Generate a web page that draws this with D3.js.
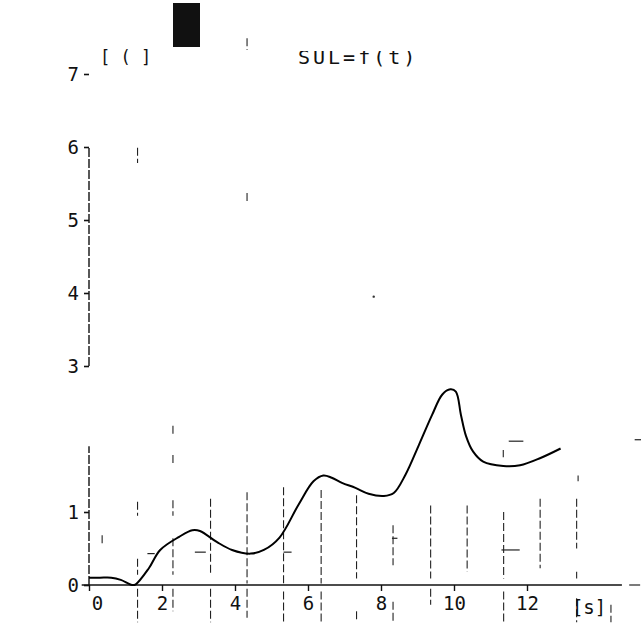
<!DOCTYPE html>
<html>
<head>
<meta charset="utf-8">
<script src="https://cdn.jsdelivr.net/npm/d3@7"></script>
<style>
  body { margin: 0; background: #fff; }
  text { font-family: "DejaVu Sans Mono", monospace; fill: #111; }
</style>
</head>
<body>
<svg id="chart"></svg>
<script>
// curve SUL = f(t)
const timeValues = [0, 0.3, 0.61, 0.87, 1.18, 1.28, 1.64, 1.95, 2.47, 2.83, 3.04, 3.5, 3.92, 4.43, 4.79, 5.22,
                    5.74, 6.15, 6.42, 6.65, 6.93, 7.3, 7.66, 8.08, 8.35, 8.67, 9.04, 9.4, 9.68, 9.9, 10.05,
                    10.19, 10.33, 10.52, 10.8, 11.35, 11.81, 12.37, 12.92];
const sulValues = [0.1, 0.1, 0.1, 0.07, 0, 0.01, 0.23, 0.48, 0.66, 0.75, 0.74, 0.59, 0.48, 0.43, 0.48, 0.65,
                   1.1, 1.42, 1.5, 1.47, 1.4, 1.33, 1.25, 1.22, 1.26, 1.51, 1.92, 2.33, 2.61, 2.68, 2.65,
                   2.33, 2.04, 1.83, 1.69, 1.63, 1.64, 1.74, 1.87];

const xTicks = [0, 2, 4, 6, 8, 10, 12];
const yTicks = [0, 1, 3, 4, 5, 6, 7];
const xUnit = '[s]';
const yUnit = '[ ( ]';
const title = 'SUL=f(t)';

// leftover grid strokes of the plotter: [t, vTop, vBottom]
const gridStrokes = [
  [0.36, 0.68, 0.55],
  [1.33, 1.14, 0.95], [1.33, 0.36, 0.14], [1.33, -0.05, -0.51], [1.33, 5.99, 5.78],
  [2.3, 1.16, 0.95], [2.3, 0.64, 0.14], [2.3, -0.05, -0.36], [2.3, 2.18, 2.04], [2.3, 1.78, 1.64],
  [3.33, 1.18, 0.14], [3.33, -0.05, -0.51],
  [4.33, 1.27, 0.02], [4.33, -0.05, -0.45], [4.33, 7.49, 7.33], [4.33, 5.37, 5.23],
  [5.33, 1.34, 0.02], [5.33, -0.09, -0.51],
  [6.36, 1.3, 0.02], [6.36, -0.09, -0.51],
  [7.33, 1.23, 0.09], [7.33, -0.36, -0.51],
  [8.33, 0.82, 0.27], [8.33, -0.23, -0.51],
  [9.36, 1.09, 0.09], [9.36, -0.05, -0.27],
  [10.36, 1.09, 0.18],
  [11.36, 1.0, 0.09], [11.36, -0.09, -0.51], [11.35, 1.85, 1.75],
  [12.36, 1.18, 0.23],
  [13.36, 1.18, 0.5], [13.36, 0.18, 0.09], [13.36, -0.18, -0.51], [13.4, 1.5, 1.42],
  [14.3, -0.27, -0.51]
];
// short horizontal strokes: [t0, t1, v]
const dashStrokes = [
  [1.6, 1.8, 0.43], [2.9, 3.2, 0.45], [5.33, 5.55, 0.45], [8.3, 8.45, 0.64],
  [11.3, 11.8, 0.48], [11.5, 11.9, 1.97], [14.95, 15.3, 1.99], [14.8, 15.1, 0]
];
// visible pieces of the broken y axis: [vBottom, vTop]
const yAxisPieces = [[0, 1.9], [3, 6]];

const width = 641, height = 624;

const svg = d3.select('#chart')
    .attr('width', width)
    .attr('height', height);

const x = d3.scaleLinear().domain([0, 14]).range([89, 600]);
const y = d3.scaleLinear().domain([0, 7]).range([585, 74]);

// grid leftovers
svg.append('g')
    .selectAll('line')
    .data(gridStrokes)
    .join('line')
    .attr('x1', d => x(d[0]))
    .attr('x2', d => x(d[0]))
    .attr('y1', d => y(d[1]))
    .attr('y2', d => y(d[2]))
    .attr('stroke', '#222')
    .attr('stroke-width', 1.1)
    .attr('stroke-dasharray', '8,3');

svg.append('g')
    .selectAll('line')
    .data(dashStrokes)
    .join('line')
    .attr('x1', d => x(d[0]))
    .attr('x2', d => x(d[1]))
    .attr('y1', d => y(d[2]))
    .attr('y2', d => y(d[2]))
    .attr('stroke', '#222')
    .attr('stroke-width', 1.2);

// x axis
svg.append('line')
    .attr('x1', x(-0.2)).attr('x2', x(14.6))
    .attr('y1', y(0)).attr('y2', y(0))
    .attr('stroke', '#111')
    .attr('stroke-width', 1.6);

const xAxis = d3.axisBottom(x)
    .tickValues(xTicks)
    .tickSize(6)
    .tickPadding(6)
    .tickFormat(d3.format('d'));

svg.append('g')
    .attr('transform', `translate(0,${y(0)})`)
    .call(xAxis)
    .call(g => g.select('.domain').remove())
    .call(g => g.selectAll('.tick line').attr('stroke', '#111').attr('stroke-width', 1.4))
    .call(g => g.selectAll('.tick text')
        .attr('font-size', 19)
        .attr('font-family', '"DejaVu Sans Mono", monospace')
        .attr('fill', '#111')
        .attr('dx', d => d === 0 ? 8 : 0));

svg.append('text')
    .attr('x', x(13.7))
    .attr('y', y(0) + 29)
    .attr('text-anchor', 'middle')
    .attr('font-size', 19)
    .text(xUnit);

// y axis, broken and dashed like the scan
svg.append('g')
    .selectAll('line')
    .data(yAxisPieces)
    .join('line')
    .attr('x1', x(0)).attr('x2', x(0))
    .attr('y1', d => y(d[0]))
    .attr('y2', d => y(d[1]))
    .attr('stroke', '#111')
    .attr('stroke-width', 1.4)
    .attr('stroke-dasharray', '9,2');

const yAxis = d3.axisLeft(y)
    .tickValues(yTicks)
    .tickSize(5)
    .tickPadding(5)
    .tickFormat(d3.format('d'));

svg.append('g')
    .attr('transform', `translate(${x(0)},0)`)
    .call(yAxis)
    .call(g => g.select('.domain').remove())
    .call(g => g.selectAll('.tick line').attr('stroke', '#111').attr('stroke-width', 1.6))
    .call(g => g.selectAll('.tick text')
        .attr('font-size', 19)
        .attr('font-family', '"DejaVu Sans Mono", monospace')
        .attr('fill', '#111'));

// curve
const line = d3.line()
    .x((d, i) => x(timeValues[i]))
    .y(d => y(d))
    .curve(d3.curveCatmullRom.alpha(0.5));

svg.append('path')
    .datum(sulValues)
    .attr('fill', 'none')
    .attr('stroke', '#000')
    .attr('stroke-width', 2)
    .attr('d', line);

// header texts; the scan lost the upper part of the title glyphs
svg.append('clipPath')
    .attr('id', 'title-clip')
    .append('rect')
    .attr('x', 0).attr('y', 51)
    .attr('width', width).attr('height', 20);

svg.append('text')
    .attr('x', 100)
    .attr('y', 63)
    .attr('font-size', 17)
    .text(yUnit);

svg.append('text')
    .attr('x', 298)
    .attr('y', 64)
    .attr('font-size', 20)
    .attr('letter-spacing', 3)
    .attr('clip-path', 'url(#title-clip)')
    .text(title);

// dark stamp at the top
svg.append('rect')
    .attr('x', 173).attr('y', 3)
    .attr('width', 27).attr('height', 44)
    .attr('fill', '#111');

svg.append('circle')
    .attr('cx', x(7.8)).attr('cy', y(3.95))
    .attr('r', 1.2)
    .attr('fill', '#333');
</script>
</body>
</html>
